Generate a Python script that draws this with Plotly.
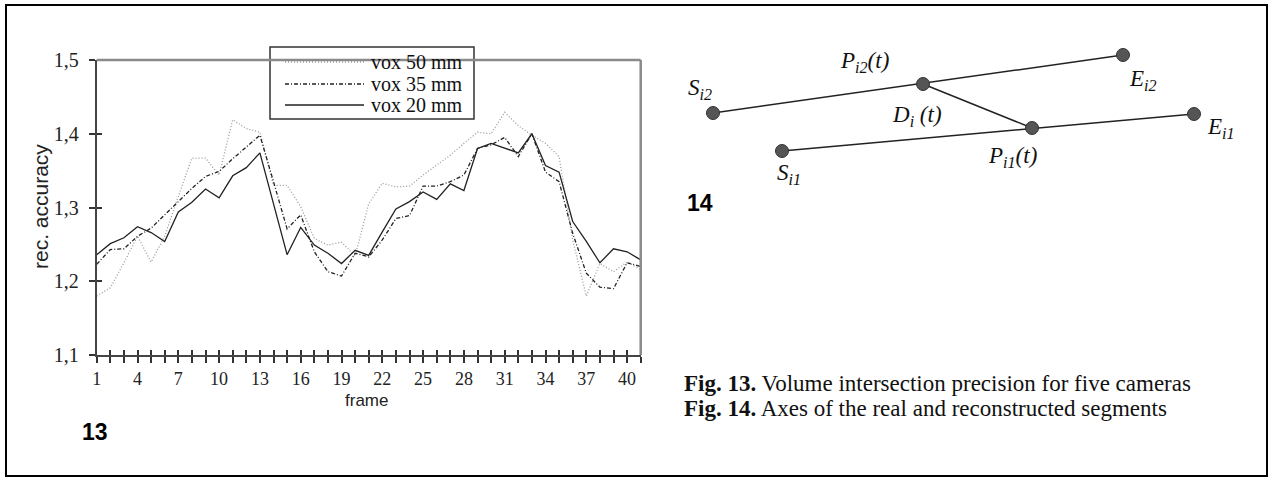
import plotly.graph_objects as go

# ---------------- data ----------------
frames = list(range(1, 42))
vox50 = [1.180, 1.191, 1.225, 1.261, 1.226, 1.261, 1.315, 1.367, 1.367, 1.344,
         1.419, 1.407, 1.402, 1.330, 1.330, 1.301, 1.258, 1.249, 1.253, 1.234,
         1.305, 1.333, 1.328, 1.329, 1.344, 1.357, 1.371, 1.387, 1.402, 1.400,
         1.429, 1.411, 1.398, 1.387, 1.369, 1.256, 1.180, 1.224, 1.213, 1.226, 1.216]
vox35 = [1.223, 1.243, 1.244, 1.261, 1.272, 1.290, 1.308, 1.326, 1.342, 1.349,
         1.366, 1.382, 1.398, 1.335, 1.271, 1.290, 1.240, 1.213, 1.207, 1.238,
         1.233, 1.256, 1.285, 1.289, 1.329, 1.329, 1.335, 1.344, 1.380, 1.385,
         1.395, 1.369, 1.400, 1.348, 1.335, 1.265, 1.211, 1.192, 1.190, 1.225, 1.220]
vox20 = [1.236, 1.251, 1.259, 1.274, 1.266, 1.254, 1.294, 1.307, 1.325, 1.313,
         1.343, 1.354, 1.374, 1.305, 1.236, 1.273, 1.249, 1.238, 1.224, 1.242,
         1.235, 1.267, 1.298, 1.308, 1.321, 1.311, 1.332, 1.323, 1.380, 1.387,
         1.380, 1.374, 1.400, 1.357, 1.348, 1.281, 1.254, 1.225, 1.244, 1.240, 1.229]
series_names = ["vox 50 mm", "vox 35 mm", "vox 20 mm"]

x_tick_vals = frames
x_tick_text = [str(f) if (f - 1) % 3 == 0 else "" for f in frames]
y_tick_vals = [1.1, 1.2, 1.3, 1.4, 1.5]
y_tick_text = ["1,1", "1,2", "1,3", "1,4", "1,5"]

# schematic (Fig. 14) – diagram coordinates
diag_names = ["S_i2", "P_i2", "E_i2", "S_i1", "P_i1", "E_i1"]
diag_x = [713, 923, 1123, 782, 1032, 1194]
diag_y = [113, 84, 55, 151, 128, 114]

# --------------- styles ---------------
SERIF = "Liberation Serif"
SANS = "Liberation Sans"
styles = [dict(color="#9a9a9a", width=1.3, dash="1px,2px"),
          dict(color="#222222", width=1.3, dash="4px,2px,1px,2px"),
          dict(color="#222222", width=1.3, dash="solid")]

fig = go.Figure()

for ys, st, nm in zip([vox50, vox35, vox20], styles, series_names):
    fig.add_trace(go.Scatter(x=frames, y=ys, mode="lines", line=st, name=nm,
                             showlegend=False, xaxis="x", yaxis="y"))

# invisible trace for overlay axes (inside ticks)
fig.add_trace(go.Scatter(x=[frames[0]], y=[y_tick_vals[0]], mode="markers",
                         marker=dict(opacity=0), showlegend=False,
                         xaxis="x3", yaxis="y3", hoverinfo="skip"))

# custom legend (in x2/y2 coordinates)
leg_y = [62, 84, 105]
for st, nm, ly in zip(styles, series_names, leg_y):
    fig.add_trace(go.Scatter(x=[285, 364], y=[ly, ly], mode="lines", line=st,
                             showlegend=False, xaxis="x2", yaxis="y2", hoverinfo="skip"))
    fig.add_annotation(x=369, y=ly, xref="x2", yref="y2", text=nm, showarrow=False,
                       xanchor="left", yanchor="middle",
                       font=dict(family=SERIF, size=20, color="#111"))

# diagram segments
seg_pairs = [(0, 2), (3, 5), (1, 4)]
for a, b in seg_pairs:
    fig.add_trace(go.Scatter(x=[diag_x[a], diag_x[b]], y=[diag_y[a], diag_y[b]],
                             mode="lines", line=dict(color="#222", width=1.5),
                             showlegend=False, xaxis="x2", yaxis="y2", hoverinfo="skip"))
fig.add_trace(go.Scatter(x=diag_x, y=diag_y, mode="markers",
                         marker=dict(size=13, color="#555", line=dict(color="#333", width=1)),
                         showlegend=False, xaxis="x2", yaxis="y2", hoverinfo="skip"))

diag_labels = [
    (700, 89, "S<sub>i2</sub>"),
    (864, 62, "P<sub>i2</sub>(t)"),
    (917, 116, "D<sub>i</sub> (t)"),
    (789, 174, "S<sub>i1</sub>"),
    (1143, 80, "E<sub>i2</sub>"),
    (1221, 128, "E<sub>i1</sub>"),
    (1012, 157, "P<sub>i1</sub>(t)"),
]
for lx, ly, t in diag_labels:
    fig.add_annotation(x=lx, y=ly, xref="x2", yref="y2", text="<i>" + t + "</i>",
                       showarrow=False, font=dict(family=SERIF, size=23, color="#111"))

fig.add_annotation(x=700, y=203, xref="x2", yref="y2", text="<b>14</b>", showarrow=False,
                   font=dict(family=SANS, size=23, color="#000"))
fig.add_annotation(x=95, y=432, xref="x2", yref="y2", text="<b>13</b>", showarrow=False,
                   font=dict(family=SANS, size=23, color="#000"))
fig.add_annotation(x=682, y=383, xref="x2", yref="y2", xanchor="left",
                   text="<b>Fig. 13.</b> Volume intersection precision for five cameras",
                   showarrow=False, font=dict(family=SERIF, size=23, color="#111"))
fig.add_annotation(x=682, y=408, xref="x2", yref="y2", xanchor="left",
                   text="<b>Fig. 14.</b> Axes of the real and reconstructed segments",
                   showarrow=False, font=dict(family=SERIF, size=23, color="#111"))
fig.add_annotation(x=40, y=207, xref="x2", yref="y2", text="rec. accuracy", textangle=-90,
                   showarrow=False, font=dict(family=SANS, size=21, color="#222"))
fig.add_annotation(x=366, y=400, xref="x2", yref="y2", text="frame",
                   showarrow=False, font=dict(family=SANS, size=17, color="#222"))

W, H = 1272, 482
xd = [96.7 / W, 640.7 / W]
yd = [1 - 355 / H, 1 - 60 / H]

shapes = [
    # outer border
    dict(type="rect", xref="paper", yref="paper", x0=6 / W, x1=1267 / W,
         y0=1 - 476 / H, y1=1 - 5 / H, line=dict(color="#000", width=2)),
    # gray top and right frame of plot area
    dict(type="line", xref="x domain", yref="y domain", x0=0, x1=1, y0=1, y1=1,
         line=dict(color="#8a8a8a", width=2.5)),
    dict(type="line", xref="x domain", yref="y domain", x0=1, x1=1, y0=0, y1=1,
         line=dict(color="#8a8a8a", width=2.5)),
    # legend box
    dict(type="rect", xref="x2", yref="y2", x0=270, x1=474, y0=47, y1=119,
         line=dict(color="#333", width=1.5), fillcolor="white", layer="below"),
]

fig.update_layout(
    width=W, height=H, margin=dict(l=0, r=0, t=0, b=0, pad=0), autosize=False,
    paper_bgcolor="white", plot_bgcolor="rgba(0,0,0,0)",
    showlegend=False, shapes=shapes,
    xaxis=dict(domain=xd, range=[1, 41], tickmode="array", tickvals=x_tick_vals,
               ticktext=x_tick_text, ticks="outside", ticklen=6, tickwidth=1.5,
               tickcolor="#333", showline=True, linecolor="#444", linewidth=2,
               showgrid=False, zeroline=False, anchor="y", ticklabelstandoff=0,
               automargin=False,
               tickfont=dict(family=SERIF, size=18, color="#222")),
    yaxis=dict(domain=yd, range=[1.1, 1.5], tickmode="array", tickvals=y_tick_vals,
               ticktext=y_tick_text, ticks="outside", ticklen=6, tickwidth=1.5,
               tickcolor="#333", showline=True, linecolor="#444", linewidth=2,
               showgrid=False, zeroline=False, anchor="x", ticklabelstandoff=6,
               automargin=False,
               tickfont=dict(family=SERIF, size=20, color="#222")),
    xaxis3=dict(overlaying="x", range=[1, 41], tickmode="array", tickvals=x_tick_vals,
                showticklabels=False, ticks="inside", ticklen=5, tickwidth=1.5,
                tickcolor="#333", showline=False, showgrid=False, zeroline=False,
                anchor="y3", automargin=False),
    yaxis3=dict(overlaying="y", range=[1.1, 1.5], tickmode="array", tickvals=y_tick_vals,
                showticklabels=False, ticks="inside", ticklen=5, tickwidth=1.5,
                tickcolor="#333", showline=False, showgrid=False, zeroline=False,
                anchor="x3", automargin=False),
    xaxis2=dict(domain=[0, 1], range=[0, W], visible=False, anchor="y2", automargin=False),
    yaxis2=dict(domain=[0, 1], range=[H, 0], visible=False, anchor="x2", automargin=False),
)

fig.write_html("out.html", config={"responsive": False, "displayModeBar": False},
               post_script="document.body.style.margin='0';"
                           "document.documentElement.style.overflow='hidden';")
